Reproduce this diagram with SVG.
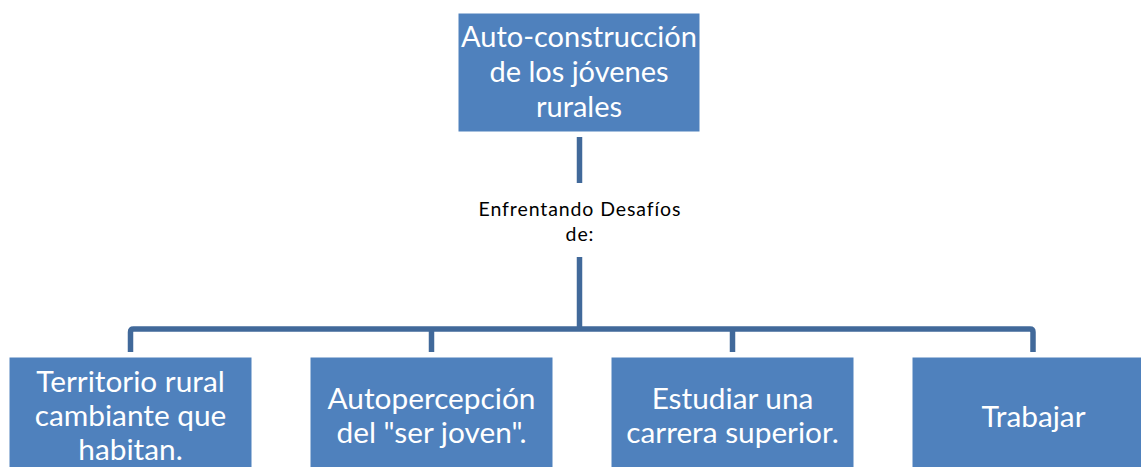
<svg xmlns="http://www.w3.org/2000/svg" width="1141" height="467" viewBox="0 0 1141 467">
<style>
.box{fill:#4F81BD;stroke:#ffffff;stroke-width:1}
.t{font-family:Lato,"Open Sans","Liberation Sans",sans-serif;fill:#ffffff;text-anchor:middle}
.big{font-size:29px}
.mid{font-size:29.8px}
.lbl{font-family:Lato,"Open Sans","Liberation Sans",sans-serif;fill:#000000;text-anchor:middle;font-size:19.5px;letter-spacing:0.9px}
.c{fill:none;stroke:#41699A;stroke-width:5.5;stroke-linejoin:round}
</style>
<rect width="1141" height="467" fill="#ffffff"/>
<g id="connectors">
<line class="c" x1="579.5" y1="137" x2="579.5" y2="183"/>
<line class="c" x1="579.5" y1="257" x2="579.5" y2="329"/>
<path class="c" d="M130.5,352 V332 Q130.5,329 133.5,329 H1030 Q1033,329 1033,332 V352"/>
<line class="c" x1="431.5" y1="329" x2="431.5" y2="352"/>
<line class="c" x1="732.5" y1="329" x2="732.5" y2="352"/>
</g>
<g id="label">
<text class="lbl" x="580" y="216">Enfrentando Desafíos</text>
<text class="lbl" x="580" y="240.5">de:</text>
</g>
<g id="root">
<rect class="box" x="458" y="13" width="242" height="119"/>
<text class="t big" x="579" y="47">Auto-construcción</text>
<text class="t big" x="579" y="82">de los jóvenes</text>
<text class="t big" x="579" y="117">rurales</text>
</g>
<g id="n1">
<rect class="box" x="9" y="357" width="243" height="120"/>
<text class="t mid" x="130.5" y="392">Territorio rural</text>
<text class="t mid" x="130.5" y="426">cambiante que</text>
<text class="t mid" x="130.5" y="460">habitan.</text>
</g>
<g id="n2">
<rect class="box" x="310" y="357" width="243" height="120"/>
<text class="t mid" x="431.5" y="409">Autopercepción</text>
<text class="t mid" x="431.5" y="443">del "ser joven".</text>
</g>
<g id="n3">
<rect class="box" x="611" y="357" width="243" height="120"/>
<text class="t mid" x="732.5" y="409">Estudiar una</text>
<text class="t mid" x="732.5" y="443">carrera superior.</text>
</g>
<g id="n4">
<rect class="box" x="912" y="357" width="243" height="120"/>
<text class="t mid" x="1033.5" y="427">Trabajar</text>
</g>
</svg>
